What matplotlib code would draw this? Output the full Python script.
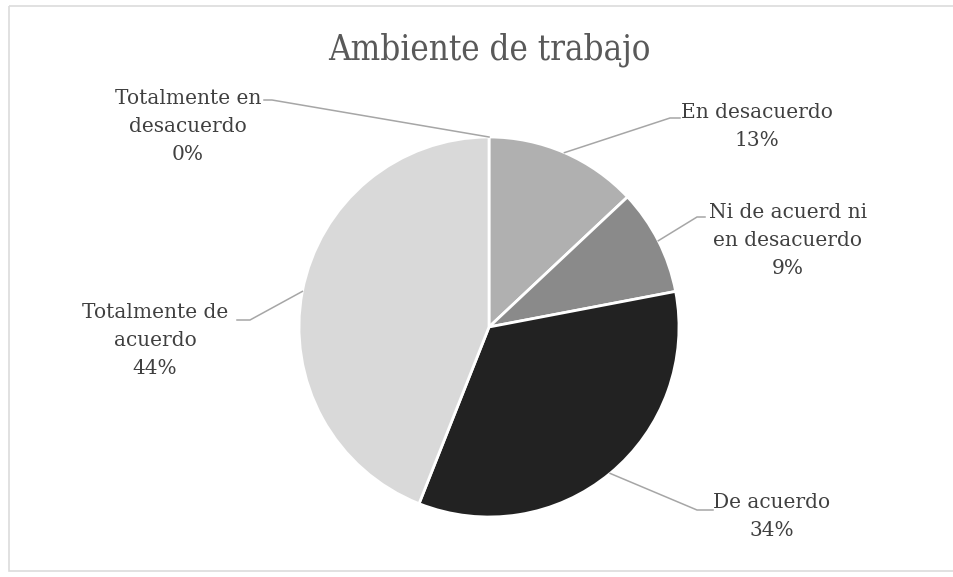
import matplotlib.pyplot as plt
from matplotlib.patches import Rectangle
import numpy as np

title = "Ambiente de trabajo"
categories = [
    "Totalmente en\ndesacuerdo",
    "En desacuerdo",
    "Ni de acuerd ni\nen desacuerdo",
    "De acuerdo",
    "Totalmente de\nacuerdo",
]
shares = [0, 13, 9, 34, 44]
colors = ["#7f7f7f", "#b0b0b0", "#8a8a8a", "#222222", "#d9d9d9"]

# label block centres and leader elbows, in pixels from the top-left corner
label_pos = [(188, 126), (757, 126), (788, 241), (772, 516), (155, 341)]
elbows = [(272, 100), (670, 118), (697, 217), (697, 510), (250, 320)]
elbow_ends = [(264, 100), (680, 118), (705, 217), (713, 510), (237, 320)]

W, H = 954, 577
fig = plt.figure(figsize=(W / 100, H / 100), dpi=100)
ax = fig.add_axes([0, 0, 1, 1])

center = (489, 327)
radius = 190

# y runs downwards here, so angle -90 is 12 o'clock and ccw in data is cw on screen
wedges, _ = ax.pie(
    shares,
    colors=colors,
    startangle=-90,
    counterclock=True,
    center=center,
    radius=radius,
    wedgeprops=dict(edgecolor="white", linewidth=2),
)
ax.set_xlim(0, W)
ax.set_ylim(H, 0)
ax.set_aspect("auto")
ax.axis("off")

ax.add_patch(Rectangle((9, 6), W, H - 12, fill=False, edgecolor="#dcdcdc", lw=1.2))

ax.text(center[0], 50, title, ha="center", va="center", fontsize=25,
        family="DejaVu Serif", fontstretch="condensed", color="#595959")

for w, cat, val, (tx, ty), el, ee in zip(wedges, categories, shares,
                                          label_pos, elbows, elbow_ends):
    mid = np.deg2rad((w.theta1 + w.theta2) / 2)
    ex = center[0] + radius * np.cos(mid)
    ey = center[1] + radius * np.sin(mid)
    ax.plot([ex, el[0], ee[0]], [ey, el[1], ee[1]], color="#a6a6a6", lw=1.1,
            solid_joinstyle="miter")
    ax.text(tx, ty, f"{cat}\n{val}%", ha="center", va="center", fontsize=14.5,
            family="DejaVu Serif", color="#404040", linespacing=1.6)

fig.savefig("out.png", dpi=100, facecolor="white")
